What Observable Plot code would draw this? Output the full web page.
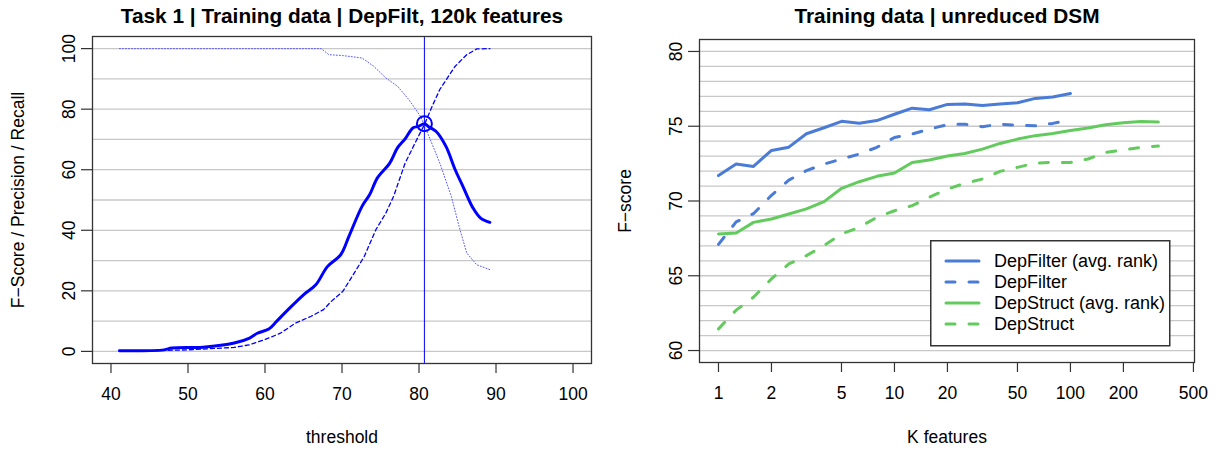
<!DOCTYPE html>
<html><head><meta charset="utf-8">
<script src="https://cdn.jsdelivr.net/npm/d3@7"></script>
<script src="https://cdn.jsdelivr.net/npm/@observablehq/plot@0.6"></script>
<style>
body{margin:0;background:#fff;}
#wrap{position:relative;width:1217px;height:450px;background:#fff;font-family:"Liberation Sans",Arial,sans-serif;}
#left{position:absolute;left:0;top:0;}
#right{position:absolute;left:608px;top:0;}
#legend{position:absolute;left:930px;top:240px;}
</style></head><body>
<div id="wrap"><div id="left"></div><div id="right"></div><div id="legend"></div></div>
<script>
// ---------- Left panel data ----------
const leftTitle = "Task 1 | Training data | DepFilt, 120k features";
const leftXLabel = "threshold";
const leftYLabel = "F\u2212Score / Precision / Recall";
const leftXTicks = [40, 50, 60, 70, 80, 90, 100];
const leftYTicks = [0, 20, 40, 60, 80, 100];
const leftGrid = [0, 10, 20, 30, 40, 50, 60, 70, 80, 90, 100];

const fThreshold = [41.1, 46.9, 47.9, 51.95, 56, 58, 59, 60.5, 61.5, 63, 65, 66.6, 68.1, 69.85, 70.9, 72.6, 73.6, 74.6, 76.2, 77.2, 78.2, 79.2, 79.9, 80.7, 81.2, 82.2, 83.5, 84.7, 85.7, 87.0, 88.0, 89.2];
const fScore     = [0.2, 0.5, 1.1, 1.4, 2.75, 4.4, 6, 7.4, 9.9, 13.8, 18.7, 22, 28, 32, 38, 47.9, 51.8, 57.3, 62.2, 67.2, 70.2, 73.8, 74.3, 75.2, 74.3, 72.7, 67.7, 60, 54.5, 47.4, 44, 42.6];

const rThreshold = [41.1, 49.9, 56, 58, 60, 62, 64, 66, 67.6, 68.6, 70.1, 71.6, 72.9, 74.4, 75.7, 76.7, 78.2, 79.7, 80.7, 81.7, 82.7, 84.7, 86.2, 87.5, 89.2];
const recall     = [0, 0.5, 1.3, 2.2, 3.9, 6, 9.4, 11.6, 13.8, 16.5, 19.8, 25.9, 31.4, 40.2, 45.7, 51.2, 62.2, 69.9, 74.9, 80.9, 86.5, 94.2, 98, 99.9, 100];

const pThreshold = [41.1, 67.3, 68.3, 70.1, 72.6, 74.1, 75.7, 77.2, 78.7, 80.2, 81.2, 82.7, 84.2, 85.2, 86.2, 87.5, 89.2];
const precision  = [100, 100, 98, 97.7, 96.9, 94.2, 90.3, 87.6, 83.1, 77.6, 71.6, 62.2, 51.2, 41.3, 32.5, 28.6, 27];

const bestThreshold = 80.7;
const bestF = 75.2;

// ---------- Right panel data ----------
const rightTitle = "Training data | unreduced DSM";
const rightXLabel = "K features";
const rightYLabel = "F\u2212score";
const rightXTicks = [1, 2, 5, 10, 20, 50, 100, 200, 500];
const rightYTicks = [60, 65, 70, 75, 80];
const rightGrid = [60,61,62,63,64,65,66,67,68,69,70,71,72,73,74,75,76,77,78,79,80];

const kFeatures = [1, 1.26, 1.58, 2, 2.51, 3.16, 3.98, 5.01, 6.31, 7.94, 10, 12.6, 15.8, 20, 25.1, 31.6, 39.8, 50.1, 63.1, 79.4, 100, 126, 158, 200, 251, 316];
const depFilterAvg = [71.7, 72.47, 72.31, 73.38, 73.6, 74.5, 74.9, 75.33, 75.2, 75.38, 75.8, 76.21, 76.1, 76.46, 76.49, 76.39, 76.48, 76.57, 76.86, 76.95, 77.19];
const depFilter    = [67.1, 68.6, 69.15, 70.38, 71.4, 72.03, 72.47, 72.81, 73.14, 73.59, 74.25, 74.48, 74.81, 75.1, 75.14, 74.97, 75.14, 75.06, 75.03, 75.19, 75.43];
const depStructAvg = [67.8, 67.86, 68.57, 68.8, 69.13, 69.47, 69.96, 70.85, 71.29, 71.65, 71.87, 72.58, 72.74, 73.01, 73.18, 73.47, 73.85, 74.14, 74.37, 74.52, 74.72, 74.88, 75.1, 75.23, 75.32, 75.28];
const depStruct    = [61.45, 62.7, 63.56, 64.79, 65.79, 66.35, 67.02, 67.8, 68.24, 68.91, 69.35, 69.69, 70.25, 70.8, 71.18, 71.47, 71.98, 72.25, 72.54, 72.58, 72.58, 72.81, 73.25, 73.41, 73.59, 73.67];

const legendLabels = ["DepFilter (avg. rank)", "DepFilter", "DepStruct (avg. rank)", "DepStruct"];
const seriesColors = ["#4A7BD6", "#4A7BD6", "#63CB5E", "#63CB5E"];
const seriesDashed = [false, true, false, true];
const seriesValues = [depFilterAvg, depFilter, depStructAvg, depStruct];

// ---------- helpers ----------
const FONT = "'Liberation Sans', Arial, Helvetica, sans-serif";
const FS = 17.5;
const zip = (xs, ys) => ys.map((y, i) => ({x: xs[i], y}));
const DASH = "9,14";

function axisMarks(xTicks, yTicks) {
  return [
    Plot.axisX(xTicks, {anchor: "bottom", tickSize: 10, stroke: "#333", strokeWidth: 1.2, tickFormat: () => "", label: null}),
    Plot.text(xTicks, {x: d => d, text: d => String(d), frameAnchor: "bottom", dy: 31, lineAnchor: "middle", fontSize: FS, fill: "black"}),
    Plot.axisY(yTicks, {anchor: "left", tickSize: 11, stroke: "#333", strokeWidth: 1.2, tickFormat: () => "", label: null}),
    Plot.text(yTicks, {y: d => d, text: d => String(d), frameAnchor: "left", dx: -18, rotate: -90, textAnchor: "middle", lineAnchor: "bottom", fontSize: FS, fill: "black"})
  ];
}

// ---------- Left plot ----------
const leftPlot = Plot.plot({
  width: 608, height: 450,
  marginLeft: 92, marginRight: 17, marginTop: 36, marginBottom: 87,
  style: {fontFamily: FONT, fontSize: FS + "px", background: "white", color: "black", overflow: "visible"},
  x: {type: "linear", domain: [37.6, 102.4], axis: null},
  y: {type: "linear", domain: [-4, 104], axis: null},
  marks: [
    Plot.ruleY(leftGrid, {stroke: "#c8c8c8", strokeWidth: 1.3}),
    Plot.ruleX([bestThreshold], {stroke: "blue", strokeWidth: 1}),
    Plot.line(zip(pThreshold, precision), {x: "x", y: "y", stroke: "#5a5aff", strokeWidth: 1, strokeDasharray: "1,2"}),
    Plot.line(zip(rThreshold, recall), {x: "x", y: "y", stroke: "blue", strokeWidth: 1.3, strokeDasharray: "4,3"}),
    Plot.line(zip(fThreshold, fScore), {x: "x", y: "y", stroke: "blue", strokeWidth: 3, curve: "catmull-rom"}),
    Plot.dot([{x: bestThreshold, y: bestF}], {x: "x", y: "y", r: 7.5, stroke: "blue", strokeWidth: 2, fill: "none"}),
    Plot.frame({stroke: "#333", strokeWidth: 1.3}),
    ...axisMarks(leftXTicks, leftYTicks),
    Plot.text([leftTitle], {text: d => d, frameAnchor: "top", dy: -20, lineAnchor: "middle", fontWeight: "bold", fontSize: 20.8}),
    Plot.text([leftXLabel], {text: d => d, frameAnchor: "bottom", dy: 74, lineAnchor: "middle", fontSize: FS}),
    Plot.text([leftYLabel], {text: d => d, frameAnchor: "left", dx: -74, rotate: -90, textAnchor: "middle", lineAnchor: "middle", fontSize: FS})
  ]
});
document.getElementById("left").appendChild(leftPlot);

// ---------- Right plot ----------
const seriesMarks = seriesValues.map((vals, i) =>
  Plot.line(zip(kFeatures, vals), {
    x: "x", y: "y", stroke: seriesColors[i], strokeWidth: 3,
    strokeDasharray: seriesDashed[i] ? DASH : null, strokeLinecap: "round", strokeLinejoin: "round"
  })
);

const rightPlot = Plot.plot({
  width: 609, height: 450,
  marginLeft: 91, marginRight: 23, marginTop: 39, marginBottom: 88,
  style: {fontFamily: FONT, fontSize: FS + "px", background: "white", color: "black", overflow: "visible"},
  x: {type: "log", domain: [0.78, 507], axis: null},
  y: {type: "linear", domain: [59.2, 80.8], axis: null},
  marks: [
    Plot.ruleY(rightGrid, {stroke: "#c8c8c8", strokeWidth: 1.3}),
    ...seriesMarks,
    Plot.frame({stroke: "#333", strokeWidth: 1.3}),
    ...axisMarks(rightXTicks, rightYTicks),
    Plot.text([rightTitle], {text: d => d, frameAnchor: "top", dy: -23, lineAnchor: "middle", fontWeight: "bold", fontSize: 20.8}),
    Plot.text([rightXLabel], {text: d => d, frameAnchor: "bottom", dy: 75, lineAnchor: "middle", fontSize: FS}),
    Plot.text([rightYLabel], {text: d => d, frameAnchor: "left", dx: -74, rotate: -90, textAnchor: "middle", lineAnchor: "middle", fontSize: FS})
  ]
});
document.getElementById("right").appendChild(rightPlot);

// ---------- Legend ----------
const lg = d3.select("#legend").append("svg").attr("width", 241).attr("height", 107)
  .style("font-family", FONT);
lg.append("rect").attr("x", 0.75).attr("y", 0.75).attr("width", 239).attr("height", 105)
  .attr("fill", "white").attr("stroke", "#333").attr("stroke-width", 1.5);
legendLabels.forEach((lab, i) => {
  const y = 21 + i * 21;
  lg.append("line").attr("x1", 16).attr("x2", 49).attr("y1", y).attr("y2", y)
    .attr("stroke", seriesColors[i]).attr("stroke-width", 3).attr("stroke-linecap", "round")
    .attr("stroke-dasharray", seriesDashed[i] ? DASH : null);
  lg.append("text").attr("x", 64).attr("y", y + 6).attr("font-size", 18).attr("fill", "black").text(lab);
});
</script>
</body></html>
